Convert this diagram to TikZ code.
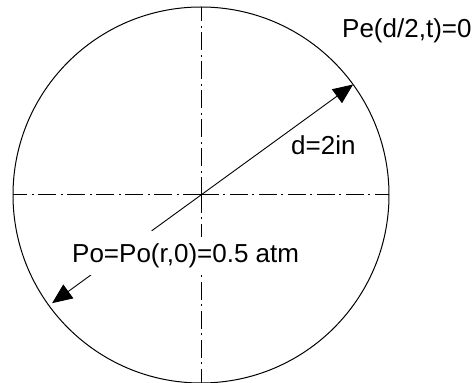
\documentclass[tikz,border=0pt]{standalone}
\usepackage{fontspec}
\setmainfont{Liberation Sans}
\usetikzlibrary{arrows.meta}

\begin{document}
\begin{tikzpicture}[x=1pt, y=1pt, every node/.style={font=\fontsize{26}{30}\selectfont, inner sep=0pt},
  centerline/.style={line width=1pt, dash pattern=on 18pt off 4pt on 2pt off 5pt},
  radarrow/.style={line width=0.9pt, -{Triangle[length=20pt, width=17pt]}}]
\useasboundingbox (0,0) rectangle (475,383);
\coordinate (o) at (201,188);
\draw[line width=1pt] (o) circle[radius=188pt];
\coordinate (west) at (13,188);
\coordinate (east) at (389,188);
\coordinate (north) at (201,376);
\coordinate (south) at (201,0);
\draw[centerline] (o) -- (west);
\draw[centerline] (o) -- (east);
\draw[centerline] (o) -- (north);
\draw[centerline] (o) -- (south);
\coordinate (rimup) at ([shift={(o)}]36:188);
\coordinate (cut) at ([shift={(o)}]216:61);
\coordinate (tail) at ([shift={(o)}]216:132);
\coordinate (rimdown) at ([shift={(o)}]216:184);
\draw[radarrow] (o) -- (rimup);
\draw[line width=0.9pt] (o) -- (cut);
\draw[radarrow] (tail) -- (rimdown);
\node[anchor=base west] (pe) at (342,345) {Pe(d/2,t)=0};
\node[anchor=base west] (d) at (291,228) {d=2in};
\node[anchor=base west, fill=white, inner ysep=7pt] (po) at (72,120) {Po=Po(r,0)=0.5 atm};
\end{tikzpicture}
\end{document}
